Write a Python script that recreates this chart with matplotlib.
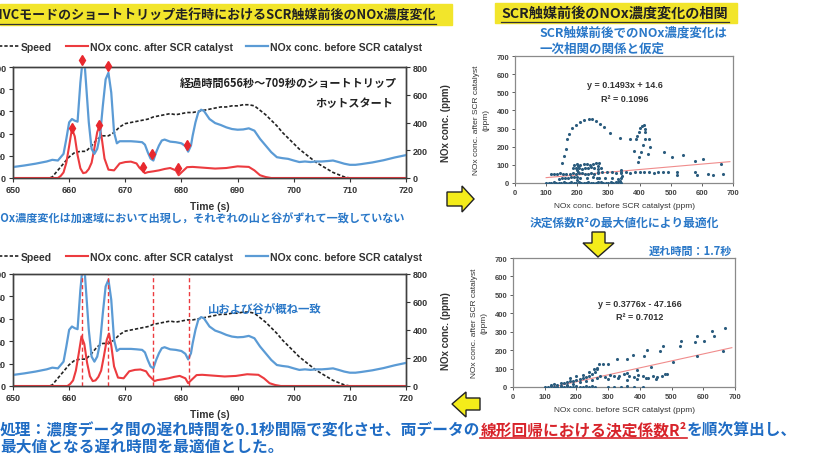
import matplotlib
matplotlib.use("Agg")
import matplotlib.pyplot as plt
from matplotlib.patches import Polygon, Rectangle
from matplotlib.lines import Line2D

W, H = 814, 456

# ---- time series ----
t_before = [650, 652, 654, 656, 657, 658, 659, 659.5, 660, 660.5, 661, 661.5, 662, 662.4, 662.8,
            663, 663.5, 664, 664.5, 665, 665.5, 666, 666.5, 667, 667.5, 668, 668.5, 669, 670,
            671, 672, 673, 673.5, 674, 674.5, 675, 675.5, 676, 676.5, 677, 678, 679, 680, 680.7,
            681.2, 681.7, 682, 682.5, 683, 683.5, 684, 685, 686, 687, 688, 689, 690, 691, 692,
            693, 694, 695, 696, 697, 698, 699, 700, 701, 702, 703, 704, 705, 706, 707, 708, 709,
            710, 711, 712, 714, 716, 718, 720]
nox_before = [79, 90, 103, 119, 131, 126, 174, 282, 401, 425, 413, 406, 687, 850, 800,
              687, 401, 210, 174, 210, 305, 520, 711, 759, 616, 329, 250, 265, 265,
              265, 262, 258, 240, 186, 140, 126, 186, 234, 270, 277, 262, 258, 250, 230,
              190, 234, 305, 401, 472, 492, 484, 425, 396, 382, 365, 353, 348, 350, 358,
              341, 282, 234, 186, 150, 143, 138, 126, 115, 119, 115, 119, 119, 122, 126, 115, 103,
              95, 95, 100, 112, 128, 148, 165]

t_after = [648, 658, 658.5, 659, 659.5, 660, 660.5, 661, 661.5, 662, 662.5, 663, 663.5, 664,
           664.5, 665, 665.4, 665.8, 666.3, 667, 668, 668.5, 669, 670, 671, 672, 672.5, 673,
           673.5, 674, 675, 676, 677, 678, 679, 679.5, 680, 681, 682, 684, 686, 688, 690, 692,
           693, 694, 695, 696, 722]
nox_after = [0, 0, 15, 40, 110, 230, 355, 300, 165, 70, 35, 40, 65, 110,
             215, 330, 375, 290, 140, 60, 55, 80, 105, 115, 118, 105, 75, 55,
             35, 42, 48, 55, 65, 72, 55, 20, 40, 78, 80, 74, 68, 72, 84, 80,
             55, 20, 7, 0, 0]

t_speed = [650, 656.5, 657, 658, 659, 660, 661, 662, 663, 664, 665, 666, 667, 668, 669, 670,
           671, 672, 673, 674, 675, 676, 677, 678, 679, 680, 681, 682, 683, 684, 685, 686,
           687, 688, 689, 690, 691, 692, 693, 694, 695, 696, 697, 698, 699, 700, 701, 702,
           703, 704, 705, 706, 707, 708, 709, 710, 720]
speed = [0, 0, 1, 7, 13, 19, 23, 24, 24, 29, 35, 38, 38, 41, 46, 49,
         50, 51, 52, 53, 55, 56, 57, 58, 57, 58, 59, 59, 60, 61, 62, 63,
         64, 64, 65, 65, 66, 66, 65, 61, 57, 52, 47, 41, 36, 31, 26, 22,
         18, 14, 11, 8, 5, 3, 1, 0, 0]

delay = 1.7  # optimum lag found by maximising R2 (s)

mark_t = [660.5, 662.3, 665.3, 666.9, 673.2, 674.8, 679.4, 681.0]
mark_v = [358, 850, 380, 807, 80, 174, 72, 239]
lag_lines = [662.3, 667.0, 675.0, 681.3]

# ---- scatter: no lag ----
top_before = [100, 108, 116, 124, 132, 140, 148, 156, 164, 172, 180, 188, 196, 204, 212, 220,
              228, 236, 244, 252, 260, 268, 276, 284, 292, 300, 308, 316, 324, 332, 340,
              140, 150, 160, 170, 180, 190, 210, 230, 250, 270, 290, 310, 330,
              115, 125, 135, 145, 155, 165, 175, 185, 195, 205, 215, 225, 235, 245, 255, 265,
              185, 195, 205, 215, 225, 235, 245, 255, 265, 275, 190, 200, 210, 220, 230, 240,
              250, 260, 270,
              198, 200, 202, 199, 201, 338, 340, 342, 339, 341, 262, 265, 268,
              280, 295, 310, 325, 340, 355, 370, 385, 400, 415, 430, 445, 460, 475, 490,
              157, 163, 168, 173, 184, 195, 209, 223, 237, 248, 259, 272, 287, 306, 338, 152,
              370, 381, 389, 391, 397, 402, 409, 415, 418, 417, 416, 411, 406, 399, 429, 432,
              426, 395,
              477, 503, 540, 578, 604, 663, 521, 521, 578, 583, 620, 636, 668]
top_after = [1, 2, 1, 3, 2, 1, 2, 3, 1, 2, 4, 2, 1, 3, 2, 1,
             2, 3, 2, 1, 2, 4, 3, 2, 1, 2, 3, 2, 4, 3, 2,
             22, 28, 30, 25, 35, 32, 30, 28, 33, 25, 30, 27, 22,
             50, 52, 48, 53, 50, 49, 52, 55, 50, 53, 56, 52, 50, 54, 51, 55,
             80, 85, 82, 78, 84, 80, 86, 82, 78, 84, 100, 104, 98, 102, 106, 100,
             103, 108, 110,
             15, 35, 60, 70, 95, 10, 25, 40, 55, 70, 30, 60, 95,
             60, 58, 62, 57, 60, 63, 56, 59, 62, 58, 61, 57, 60, 63, 59,
             150, 188, 243, 270, 302, 320, 338, 349, 353, 351, 344, 325, 307, 276, 250, 110,
             243, 179, 243, 261, 283, 302, 313, 320, 300, 280, 243, 207, 170, 143, 243, 197,
             161, 115,
             170, 143, 152, 124, 133, 106, 60, 42, 60, 42, 51, 42, 51]

# ---- scatter: after shifting by the optimum lag ----
bot_before = [100, 110, 120, 130, 140, 150, 160, 170, 180, 190, 200, 210, 220, 230, 240, 250, 260,
              300, 320, 340, 360, 380, 410,
              120, 130, 140, 150, 160, 170, 180, 190, 200, 210, 220, 230, 240, 250, 260, 265,
              150, 170, 190, 210, 230, 250, 265, 180, 200, 220, 240, 255,
              275, 290, 305, 320, 335, 350, 365, 380, 395, 410, 425, 440, 455, 470, 485,
              300, 330, 360, 390, 420, 450, 480,
              668, 626, 633, 603, 579, 574, 529, 525, 472, 462, 422, 413, 378, 359, 329, 301, 285,
              270, 264,
              663, 581, 504, 434, 390, 359]
bot_after = [2, 1, 3, 2, 1, 4, 2, 3, 1, 2, 3, 2, 1, 3, 2, 4, 2,
             1, 2, 1, 3, 2, 1,
             10, 15, 12, 20, 22, 28, 30, 35, 40, 45, 50, 55, 62, 70, 80, 95,
             5, 12, 18, 25, 30, 40, 50, 50, 60, 65, 80, 100,
             60, 55, 65, 58, 62, 70, 60, 55, 65, 58, 50, 62, 55, 60, 68,
             45, 48, 40, 45, 50, 42, 70,
             320, 302, 278, 251, 275, 242, 247, 220, 224, 193, 200, 169, 175, 151, 151, 124, 127,
             124, 102,
             196, 167, 138, 109, 91, 75]

fit_top = (0.1493, 14.6)
fit_bot = (0.3776, -47.166)

BLUE = "#5b9bd5"
RED = "#ec3b3f"
TXT_BLUE = "#2a78c8"
YELLOW = "#f2e52b"
DOT = "#2b5c7e"
JP = ["Noto Sans CJK JP", "DejaVu Sans"]

plt.rcParams["font.family"] = ["Liberation Sans", "DejaVu Sans"]
plt.rcParams["font.weight"] = "bold"
plt.rcParams["axes.labelweight"] = "bold"

fig = plt.figure(figsize=(W / 100, H / 100), dpi=100)


def fx(px):
    return px / W


def fy(py):
    return 1 - py / H


def rect(l, t, r, b):
    return [fx(l), fy(b), fx(r) - fx(l), fy(t) - fy(b)]


def time_chart(r, t_red, marks):
    ax = fig.add_axes(r)
    ax2 = ax.twinx()
    l1, = ax.plot(t_speed, speed, color="#222222", ls=(0, (2, 1.2)), lw=1.2)
    l2, = ax2.plot(t_red, nox_after, color=RED, lw=1.5)
    l3, = ax2.plot(t_before, nox_before, color=BLUE, lw=1.6)
    ax.set_xlim(650, 720)
    ax.set_ylim(0, 100)
    ax2.set_ylim(0, 800)
    ax.set_xticks(range(650, 721, 10))
    ax.set_yticks(range(0, 101, 20))
    ax2.set_yticks(range(0, 801, 200))
    for a in (ax, ax2):
        for s in a.spines.values():
            s.set_color("#404040")
            s.set_linewidth(1.0)
        a.tick_params(labelsize=6.5, length=3, width=0.8, pad=2, colors="#333333")
    ax.set_xlabel("Time (s)", fontsize=7.5, labelpad=5, color="#333333")
    ax2.set_ylabel("NOx conc. (ppm)", fontsize=7, labelpad=9, color="#333333")
    if marks:
        ax2.plot(mark_t, mark_v, "d", color="#e8282e", ms=5, clip_on=False, zorder=5)
    else:
        for t in lag_lines:
            ax2.axvline(t, color=RED, ls=(0, (3, 2)), lw=1.0)
    return ax, [l1, l2, l3]


def legend_row(handles, y):
    fig.legend(handles, ["Speed", "NOx conc. after SCR catalyst", "NOx conc. before SCR catalyst"],
               loc="center left", bbox_to_anchor=(fx(-3), fy(y)), ncol=3, frameon=False,
               fontsize=7.5, handlelength=2.1, handletextpad=0.2, columnspacing=1.3,
               borderpad=0, borderaxespad=0, labelcolor="#333333")


def scatter_chart(r, xs, ys, fit, eq_x, eq_y, eq_txt):
    ax = fig.add_axes(r)
    xl = [100, 690]
    ax.plot(xl, [fit[0] * v + fit[1] for v in xl], color="#f08c8c", lw=0.8, zorder=2)
    ax.scatter(xs, ys, s=5, color=DOT, linewidths=0, zorder=3)
    ax.set_xlim(0, 700)
    ax.set_ylim(0, 700)
    ax.set_xticks(range(0, 701, 100))
    ax.set_yticks(range(0, 701, 100))
    for s in ax.spines.values():
        s.set_color("#8a8a8a")
        s.set_linewidth(0.9)
    ax.tick_params(labelsize=5.5, length=2, width=0.6, pad=2, colors="#444444")
    ax.set_xlabel("NOx conc. before SCR catalyst (ppm)", fontsize=6, labelpad=5,
                  color="#333333", fontweight="normal")
    ax.set_ylabel("NOx conc. after SCR catalyst\n(ppm)", fontsize=6, labelpad=5,
                  color="#333333", fontweight="normal", linespacing=1.5)
    ax.text(eq_x, eq_y, eq_txt, ha="center", va="center", fontsize=6.5, linespacing=1.7,
            color="#333333")
    return ax


# ---- left time charts ----
ax_top, h = time_chart(rect(13, 68, 406, 179), t_after, True)
legend_row(h, 48)
ax_bot, h = time_chart(rect(13, 275, 406, 387), [t + delay for t in t_after], False)
legend_row(h, 258)

# ---- right scatter charts ----
scatter_chart(rect(515, 57, 733, 184), top_before, top_after, fit_top, 352, 505,
              "y = 0.1493x + 14.6\nR² = 0.1096")
scatter_chart(rect(513, 259, 735, 388), bot_before, bot_after, fit_bot, 400, 418,
              "y = 0.3776x - 47.166\nR² = 0.7012")

# ---- title bars ----
fig.add_artist(Rectangle((0, fy(26)), fx(452), fy(5) - fy(26), transform=fig.transFigure,
                         color=YELLOW, zorder=0))
fig.text(fx(436), fy(15), "WHVCモードのショートトリップ走行時におけるSCR触媒前後のNOx濃度変化",
         family=JP, fontsize=9.35, weight="bold", ha="right", va="center", color="#222222")
fig.add_artist(Line2D([0, fx(436)], [fy(25), fy(25)], transform=fig.transFigure,
                      color="#333333", lw=0.9))

fig.add_artist(Rectangle((fx(495), fy(24)), fx(242), fy(4) - fy(24), transform=fig.transFigure,
                         color=YELLOW, zorder=0))
fig.text(fx(615), fy(14), "SCR触媒前後のNOx濃度変化の相関", family=JP, fontsize=10.2,
         weight="bold", ha="center", va="center", color="#222222")
fig.add_artist(Line2D([fx(501), fx(729)], [fy(23), fy(23)], transform=fig.transFigure,
                      color="#333333", lw=0.9))

# ---- notes ----
fig.text(fx(540), fy(33), "SCR触媒前後でのNOx濃度変化は", family=JP, fontsize=9,
         weight="bold", color=TXT_BLUE, va="center")
fig.text(fx(540), fy(49), "一次相関の関係と仮定", family=JP, fontsize=9,
         weight="bold", color=TXT_BLUE, va="center")
fig.text(fx(624), fy(223), "決定係数R²の最大値化により最適化", family=JP, fontsize=8.5,
         weight="bold", color=TXT_BLUE, ha="center", va="center")
fig.text(fx(690), fy(251), "遅れ時間：1.7秒", family=JP, fontsize=8,
         weight="bold", color=TXT_BLUE, ha="center", va="center")
fig.text(fx(397), fy(83), "経過時間656秒～709秒のショートトリップ", family=JP, fontsize=8,
         weight="bold", color="#222222", ha="right", va="center")
fig.text(fx(393), fy(103), "ホットスタート", family=JP, fontsize=8,
         weight="bold", color="#222222", ha="right", va="center")
fig.text(fx(208), fy(309), "山および谷が概ね一致", family=JP, fontsize=8.2,
         weight="bold", color=TXT_BLUE, va="center")
fig.text(fx(-8), fy(219), "NOx濃度変化は加速域において出現し，それぞれの山と谷がずれて一致していない",
         family=JP, fontsize=8, weight="bold", color=TXT_BLUE, va="center")

# bottom two-colour sentence
rend = fig.canvas.get_renderer()
y1 = fy(430)
p1 = fig.text(0, y1, "処理：濃度データ間の遅れ時間を0.1秒間隔で変化させ、両データの", family=JP,
              fontsize=11.3, weight="bold", color="#1f6cc4", va="center")
x1 = p1.get_window_extent(rend).x1 / fig.bbox.width
p2 = fig.text(x1, y1, "線形回帰における決定係数R²", family=JP, fontsize=11.3, weight="bold",
              color="#d8232a", va="center")
bb = p2.get_window_extent(rend)
fig.add_artist(Line2D([bb.x0 / fig.bbox.width, bb.x1 / fig.bbox.width], [fy(439), fy(439)],
                      transform=fig.transFigure, color="#d8232a", lw=1.2))
fig.text(bb.x1 / fig.bbox.width, y1, "を順次算出し、", family=JP, fontsize=11.3, weight="bold",
         color="#1f6cc4", va="center")
fig.text(0, fy(447), "最大値となる遅れ時間を最適値とした。", family=JP, fontsize=11.3,
         weight="bold", color="#1f6cc4", va="center")

# ---- yellow arrows ----
arrows = [
    [(447, 193), (462, 193), (462, 187), (474, 200), (462, 213), (462, 207), (447, 207)],
    [(592, 233), (605, 233), (605, 244), (614, 244), (598, 258), (583, 244), (592, 244)],
    [(480, 399), (466, 399), (466, 393), (452, 405), (466, 418), (466, 411), (480, 411)],
]
for pts in arrows:
    fig.add_artist(Polygon([(fx(a), fy(b)) for a, b in pts], closed=True,
                           transform=fig.transFigure, facecolor="#f4ec1a",
                           edgecolor="#222222", lw=1.0, zorder=6))

fig.savefig("out.png", dpi=100)
